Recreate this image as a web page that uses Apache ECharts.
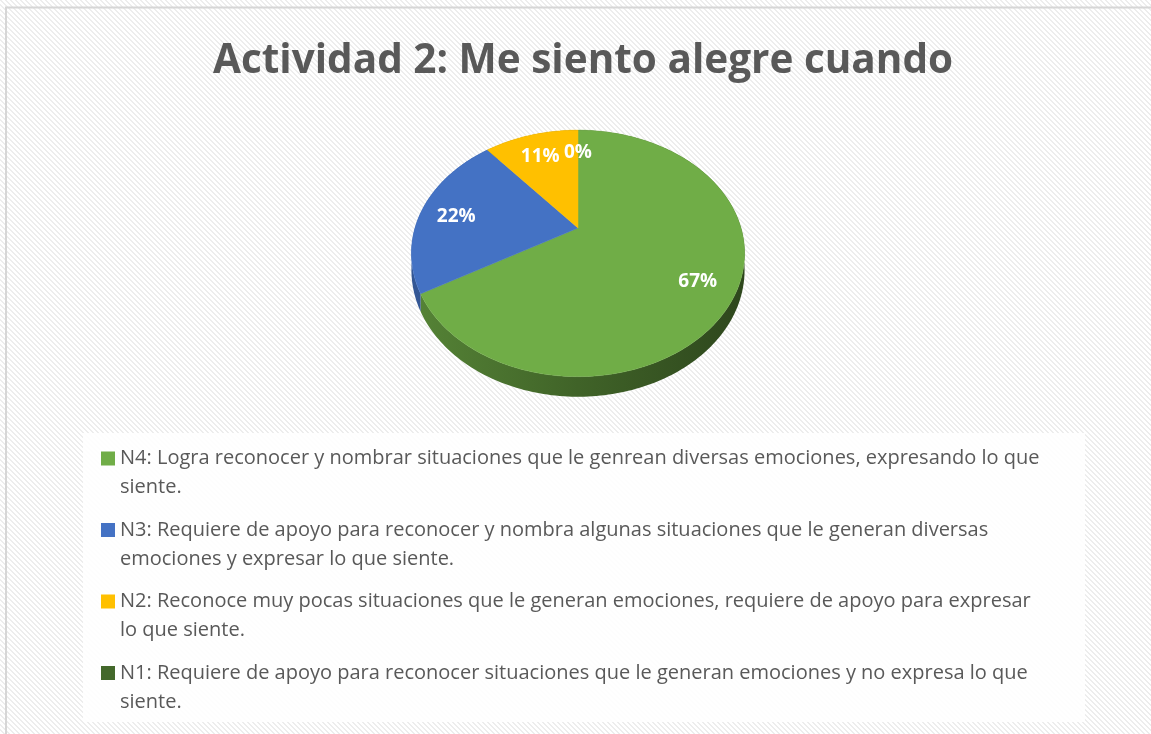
<!DOCTYPE html>
<html>
<head>
<meta charset="utf-8">
<script src="https://cdn.jsdelivr.net/npm/echarts@6/dist/echarts.min.js"></script>
<style>
  html, body { margin: 0; padding: 0; background: #fff; }
  #main { width: 1151px; height: 734px; }
</style>
</head>
<body>
<div id="main"></div>
<script>
var titleText = 'Actividad 2: Me siento alegre cuando';
var names = [
  'N4: Logra reconocer y nombrar situaciones que le genrean diversas emociones, expresando lo que siente.',
  'N3: Requiere de apoyo para reconocer y nombra algunas situaciones que le generan diversas emociones y expresar lo que siente.',
  'N2: Reconoce muy pocas situaciones que le generan emociones, requiere de apoyo para expresar lo que siente.',
  'N1: Requiere de apoyo para reconocer situaciones que le generan emociones y no expresa lo que siente.'
];
var values = [6, 2, 1, 0];
var colors = ['#70ad47', '#4472c4', '#ffc000', '#43682b'];

// pie geometry (tilted disc with a bit of perspective)
var CX = 578, CY = 228, R = 163, A = 118, P = 0.206, H = 16;
var total = values.reduce(function (s, v) { return s + v; }, 0);

function proj(phi, f, drop) {
  var x = Math.sin(phi) * f, z = Math.cos(phi) * f;
  var d = 1 + P * z;
  return [CX + R * x / d, CY - A * z / d + drop / d];
}
function arc(a0, a1, f, drop) {
  var pts = [], n = Math.max(2, Math.ceil((a1 - a0) / 0.02));
  for (var i = 0; i <= n; i++) pts.push(proj(a0 + (a1 - a0) * i / n, f, drop));
  return pts;
}
function shade(hex, k) {
  var n = parseInt(hex.slice(1), 16);
  var r = Math.round(((n >> 16) & 255) * k), g = Math.round(((n >> 8) & 255) * k), b = Math.round((n & 255) * k);
  return 'rgb(' + r + ',' + g + ',' + b + ')';
}

// diagonal hatch background
var tile = document.createElement('canvas');
tile.width = 5; tile.height = 5;
var tc = tile.getContext('2d');
tc.fillStyle = '#ffffff'; tc.fillRect(0, 0, 5, 5);
tc.fillStyle = '#ededed';
for (var i = 0; i < 5; i++) { tc.fillRect(i, i, 1, 1); tc.fillRect((i + 1) % 5, i, 1, 1); }

var myChart = echarts.init(document.getElementById('main'));

var series = names.map(function (name, idx) {
  return {
    name: name,
    type: 'custom',
    coordinateSystem: 'none',
    itemStyle: { color: colors[idx] },
    data: [values[idx]],
    renderItem: function (params, api) {
      var before = 0;
      for (var k = 0; k < idx; k++) before += values[k];
      var v = api.value(0);
      var a0 = before / total * Math.PI * 2, a1 = (before + v) / total * Math.PI * 2;
      var children = [];
      if (v > 0) {
        var top = arc(a0, a1, 1, 0);
        var bottom = arc(a0, a1, 1, H).reverse();
        children.push({
          type: 'polygon', z2: 1,
          shape: { points: top.concat(bottom) },
          style: {
            fill: {
              type: 'linear', x: CX - R, y: 0, x2: CX + R, y2: 0, global: true,
              colorStops: [
                { offset: 0, color: shade(colors[idx], 0.76) },
                { offset: 0.5, color: shade(colors[idx], 0.57) },
                { offset: 1, color: shade(colors[idx], 0.41) }
              ]
            }
          }
        });
        children.push({
          type: 'polygon', z2: 10,
          shape: { points: [[CX, CY]].concat(top) },
          style: { fill: colors[idx], stroke: colors[idx], lineWidth: 0.5 }
        });
      }
      var mid = (a0 + a1) / 2;
      var lp = proj(mid, 0.78, 0);
      children.push({
        type: 'text', z2: 20,
        x: lp[0], y: lp[1] + 4,
        style: {
          text: Math.round(v / total * 100) + '%',
          fill: '#ffffff', font: 'bold 19px "Open Sans"',
          align: 'center', verticalAlign: 'middle'
        }
      });
      return { type: 'group', children: children };
    }
  };
});

var option = {
  backgroundColor: '#ffffff',
  animation: false,
  title: {
    text: titleText,
    left: 208,
    top: 36,
    padding: [5, 5, 5, 5],
    textStyle: { fontFamily: 'Open Sans', fontWeight: 'bold', fontSize: 40.5, color: '#595959' }
  },
  graphic: [
    { type: 'rect', z: -10, shape: { x: 0, y: 0, width: 1151, height: 734 }, style: { fill: { image: tile, repeat: 'repeat' } } },
    { type: 'rect', z: -9, shape: { x: 83, y: 433, width: 1002, height: 289 }, style: { fill: 'rgba(255,255,255,0.85)' } },
    { type: 'line', z: -8, shape: { x1: 5, y1: 7.5, x2: 1151, y2: 7.5 }, style: { stroke: '#d6d6d6', lineWidth: 2 } },
    { type: 'line', z: -8, shape: { x1: 6, y1: 7, x2: 6, y2: 734 }, style: { stroke: '#d6d6d6', lineWidth: 2 } }
  ],
  legend: {
    orient: 'vertical',
    left: 96,
    top: 439,
    // square on top, invisible point below so the icon lines up with the first text line
    icon: 'path://M0,0H14V14H0Z M0,43L0.01,43',
    itemWidth: 14,
    itemHeight: 43,
    itemGap: 13.5,
    data: names,
    textStyle: {
      fontFamily: 'Open Sans', fontSize: 20, color: '#595959',
      width: 928, overflow: 'break', lineHeight: 29
    }
  },
  series: series
};
myChart.setOption(option);
</script>
</body>
</html>
